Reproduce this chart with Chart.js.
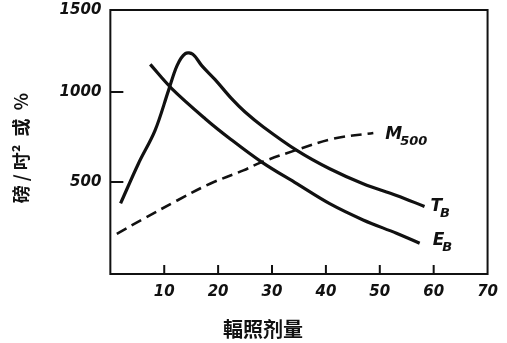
<!DOCTYPE html>
<html>
<head>
    <title>輻照剂量</title>
    <script src="https://cdn.jsdelivr.net/npm/chart.js"></script>
    <style>
        body { margin: 0; background: #fff; }
    </style>
</head>
<body>
    <canvas id="doseChart" width="507" height="343"></canvas>
    <script>
        // values
        var tbX = [1.9, 5.2, 8.3, 10.8, 12.4, 13.9, 15.3, 17.0, 19.4, 22.5, 25.0, 28.4, 34.6, 40.7, 46.9, 53.1, 58.3];
        var tbY = [382, 602, 787, 1009, 1148, 1213, 1209, 1145, 1070, 963, 889, 806, 676, 574, 491, 426, 365];
        var ebX = [7.4, 11.4, 17.6, 22.2, 28.1, 34.6, 40.7, 46.9, 53.1, 57.4];
        var ebY = [1153, 1019, 852, 741, 611, 491, 380, 290, 216, 161];
        var mX = [1.2, 6.2, 12.4, 18.5, 24.7, 28.1, 34.3, 41.4, 48.8];
        var mY = [213, 297, 398, 491, 565, 611, 676, 741, 772];
        var xTicks = [10, 20, 30, 40, 50, 60, 70];
        var yTicks = [500, 1000, 1455];
        var yTickLabels = ['500', '1000', '1500'];
        var xTitle = '輻照剂量';
        var yTitle = '磅 / 吋²  或  %   ';

        function pts(xs, ys) {
            return xs.map(function (x, i) { return { x: x, y: ys[i] }; });
        }

        var tickFont = { family: 'DejaVu Sans', size: 15, weight: 'bold', style: 'italic' };

        // frame, inward tick marks, curve labels, x title
        var decor = {
            id: 'decor',
            afterDraw: function (chart) {
                var c = chart.ctx, a = chart.chartArea;
                var xs = chart.scales.x, ys = chart.scales.y;
                c.save();
                c.strokeStyle = '#111';
                c.lineWidth = 2;
                c.strokeRect(a.left, a.top, a.right - a.left, a.bottom - a.top);
                c.beginPath();
                xTicks.slice(0, -1).forEach(function (v) {
                    var px = xs.getPixelForValue(v);
                    c.moveTo(px, a.bottom);
                    c.lineTo(px, a.bottom - 9);
                });
                yTicks.slice(0, -1).forEach(function (v) {
                    var py = ys.getPixelForValue(v);
                    c.moveTo(a.left, py);
                    c.lineTo(a.left + 13, py);
                });
                c.stroke();

                c.fillStyle = '#111';
                c.textBaseline = 'alphabetic';
                function sub(main, small, x, y) {
                    c.font = 'italic bold 17px "DejaVu Sans"';
                    c.fillText(main, x, y);
                    var w = c.measureText(main).width;
                    c.font = 'italic bold 13px "DejaVu Sans"';
                    c.fillText(small, x + w - 2, y + 6);
                }
                var tb = chart.getDatasetMeta(0).data, eb = chart.getDatasetMeta(1).data, m = chart.getDatasetMeta(2).data;
                var p = tb[tb.length - 1];
                sub('T', 'B', p.x + 6, p.y + 5);
                p = eb[eb.length - 1];
                sub('E', 'B', p.x + 13, p.y + 2);
                p = m[m.length - 1];
                sub('M', '500', p.x + 12, p.y + 6);

                c.font = 'bold 20px "Noto Sans CJK SC"';
                c.textAlign = 'center';
                c.textBaseline = 'middle';
                c.fillText(xTitle, 263, 329);
                c.restore();
            }
        };

        var ctx = document.getElementById('doseChart').getContext('2d');
        var doseChart = new Chart(ctx, {
            type: 'line',
            data: {
                datasets: [{
                    label: 'T_B',
                    data: pts(tbX, tbY),
                    borderColor: '#111',
                    borderWidth: 3.2,
                    pointRadius: 0,
                    tension: 0.35
                }, {
                    label: 'E_B',
                    data: pts(ebX, ebY),
                    borderColor: '#111',
                    borderWidth: 3.2,
                    pointRadius: 0,
                    tension: 0.35
                }, {
                    label: 'M500',
                    data: pts(mX, mY),
                    borderColor: '#111',
                    borderWidth: 2.6,
                    borderDash: [11, 6],
                    pointRadius: 0,
                    tension: 0.35
                }]
            },
            options: {
                responsive: false,
                animation: false,
                layout: { padding: { top: 0, right: 19, bottom: 33, left: 0 } },
                plugins: { legend: { display: false }, tooltip: { enabled: false } },
                scales: {
                    x: {
                        type: 'linear',
                        min: 0,
                        max: 70,
                        grid: { display: false, drawTicks: false },
                        border: { display: false },
                        afterBuildTicks: function (s) { s.ticks = xTicks.map(function (v) { return { value: v }; }); },
                        ticks: { color: '#111', font: tickFont, padding: 9, maxRotation: 0 }
                    },
                    y: {
                        min: -10,
                        max: 1455,
                        grid: { display: false, drawTicks: false },
                        border: { display: false },
                        afterBuildTicks: function (s) { s.ticks = yTicks.map(function (v) { return { value: v }; }); },
                        afterFit: function (s) { s.paddingTop = 10; },
                        ticks: {
                            color: '#111',
                            font: tickFont,
                            padding: 9,
                            callback: function (v, i) { return yTickLabels[i]; }
                        },
                        title: {
                            display: true,
                            text: yTitle,
                            color: '#111',
                            font: { family: 'Noto Sans CJK SC', size: 18, weight: 'bold' },
                            padding: { top: 10, bottom: 19 }
                        }
                    }
                }
            },
            plugins: [decor]
        });
    </script>
</body>
</html>
